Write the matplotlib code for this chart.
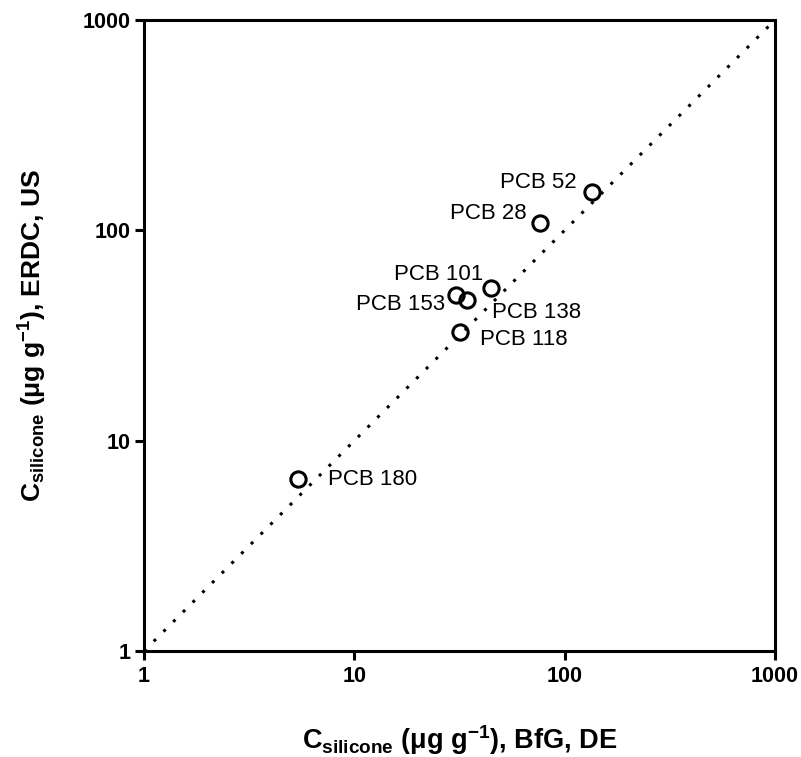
import matplotlib.pyplot as plt
from matplotlib.ticker import FixedLocator, FixedFormatter, NullLocator

plt.rcParams['font.family'] = ['Liberation Sans', 'DejaVu Sans']
plt.rcParams['mathtext.default'] = 'regular'

# PCB congeners: C_silicone BfG (x) vs ERDC (y), ug/g
labels = ['PCB 52', 'PCB 28', 'PCB 101', 'PCB 153', 'PCB 138', 'PCB 118', 'PCB 180']
c_bfg = [135.5, 76.4, 30.5, 34.4, 44.7, 31.8, 5.38]
c_erdc = [152.8, 108.0, 49.3, 46.7, 53.2, 32.9, 6.55]

# label offsets in points (dx, dy) and alignment
offsets = [(-11, 6.5, 'right'), (-10, 7, 'right'), (19.5, 14.5, 'right'), (-16, -3.6, 'right'),
           (0.7, -18, 'left'), (14.4, -5.8, 'left'), (22, 0, 'left')]

ticks = [1, 10, 100, 1000]
tick_labels = ['1', '10', '100', '1000']

fig = plt.figure(figsize=(8.01, 7.57), dpi=100)
ax = fig.add_axes([0.1798, 0.140, 0.7877, 0.8336])

ax.plot([1, 1000], [1, 1000], color='black', linestyle=(0, (1, 3.5)), linewidth=2.2)
ax.plot(c_bfg, c_erdc, linestyle='none', marker='o', markersize=11,
        markerfacecolor='none', markeredgecolor='black', markeredgewidth=2.2)

for lab, x, y, (dx, dy, ha) in zip(labels, c_bfg, c_erdc, offsets):
    ax.annotate(lab, (x, y), xytext=(dx, dy), textcoords='offset points',
                ha=ha, va='center', fontsize=16)

ax.set_xscale('log')
ax.set_yscale('log')
ax.set_xlim(1, 1000)
ax.set_ylim(1, 1000)
for axis in (ax.xaxis, ax.yaxis):
    axis.set_major_locator(FixedLocator(ticks))
    axis.set_major_formatter(FixedFormatter(tick_labels))
    axis.set_minor_locator(NullLocator())

for sp in ax.spines.values():
    sp.set_linewidth(2.2)
ax.tick_params(direction='out', length=6.5, width=2.2, labelsize=15.5)
ax.tick_params(axis='x', pad=4)
ax.tick_params(axis='y', pad=3)
for t in ax.get_xticklabels() + ax.get_yticklabels():
    t.set_fontweight('bold')

ax.set_xlabel(r'C$_{silicone}$ ($\mu$g g$^{-1}$), BfG, DE', fontsize=19.5,
              fontweight='bold', labelpad=26)
ax.set_ylabel(r'C$_{silicone}$ ($\mu$g g$^{-1}$), ERDC, US', fontsize=19,
              fontweight='bold', labelpad=24)

fig.savefig('out.png', dpi=100)
